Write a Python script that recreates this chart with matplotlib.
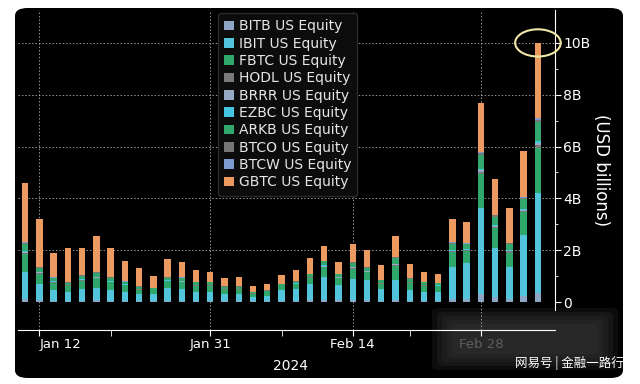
import matplotlib
matplotlib.use("Agg")
import matplotlib.pyplot as plt
from matplotlib.patches import FancyBboxPatch, Ellipse
import numpy as np

plt.rcParams['font.family'] = ['DejaVu Sans', 'Noto Sans CJK SC']

# trading days, Jan 11 - Mar 5 2024
dates = ["Jan 11", "Jan 12", "Jan 16", "Jan 17", "Jan 18", "Jan 19", "Jan 22", "Jan 23",
         "Jan 24", "Jan 25", "Jan 26", "Jan 29", "Jan 30", "Jan 31", "Feb 1", "Feb 2",
         "Feb 5", "Feb 6", "Feb 7", "Feb 8", "Feb 9", "Feb 12", "Feb 13", "Feb 14",
         "Feb 15", "Feb 16", "Feb 20", "Feb 21", "Feb 22", "Feb 23", "Feb 26", "Feb 27",
         "Feb 28", "Feb 29", "Mar 1", "Mar 4", "Mar 5"]

# daily volume, USD billions
bitb = [0.12, 0.08, 0.05, 0.04, 0.05, 0.06, 0.05, 0.04, 0.03, 0.03, 0.05, 0.05, 0.04, 0.04, 0.03, 0.03,
        0.02, 0.03, 0.04, 0.05, 0.07, 0.09, 0.06, 0.08, 0.08, 0.05, 0.08, 0.05, 0.04, 0.04, 0.12, 0.13,
        0.30, 0.18, 0.12, 0.22, 0.35]
ibit = [1.03, 0.62, 0.40, 0.36, 0.45, 0.49, 0.40, 0.36, 0.27, 0.27, 0.50, 0.45, 0.36, 0.36, 0.27, 0.27,
        0.18, 0.22, 0.41, 0.45, 0.63, 0.86, 0.59, 0.82, 0.77, 0.45, 0.77, 0.42, 0.36, 0.36, 1.23, 1.37,
        3.33, 1.90, 1.24, 2.36, 3.85]
fbtc = [0.70, 0.40, 0.30, 0.22, 0.33, 0.36, 0.31, 0.24, 0.18, 0.15, 0.25, 0.27, 0.23, 0.23, 0.18, 0.18,
        0.12, 0.12, 0.15, 0.18, 0.24, 0.39, 0.27, 0.39, 0.30, 0.21, 0.54, 0.28, 0.23, 0.20, 0.57, 0.46,
        1.30, 0.77, 0.55, 0.88, 1.74]
hodl = [0.05, 0.03, 0.02, 0.02, 0.02, 0.03, 0.02, 0.02, 0.02, 0.01, 0.02, 0.02, 0.02, 0.02, 0.02, 0.02,
        0.01, 0.01, 0.01, 0.02, 0.02, 0.03, 0.02, 0.03, 0.02, 0.02, 0.04, 0.02, 0.02, 0.02, 0.04, 0.04,
        0.10, 0.06, 0.04, 0.07, 0.13]
brrr = [0.03, 0.01, 0.01, 0.01, 0.01, 0.01, 0.01, 0.01, 0.01, 0.01, 0.01, 0.01, 0.01, 0.01, 0.01, 0.01,
        0.00, 0.00, 0.01, 0.01, 0.01, 0.02, 0.01, 0.02, 0.01, 0.01, 0.02, 0.01, 0.01, 0.01, 0.02, 0.02,
        0.05, 0.03, 0.02, 0.03, 0.07]
ezbc = [0.03, 0.02, 0.02, 0.01, 0.02, 0.02, 0.02, 0.01, 0.01, 0.01, 0.01, 0.01, 0.01, 0.01, 0.01, 0.01,
        0.01, 0.01, 0.01, 0.01, 0.01, 0.02, 0.01, 0.02, 0.02, 0.01, 0.03, 0.01, 0.01, 0.01, 0.03, 0.02,
        0.07, 0.04, 0.03, 0.04, 0.09]
arkb = [0.28, 0.16, 0.12, 0.09, 0.14, 0.15, 0.13, 0.10, 0.07, 0.06, 0.10, 0.11, 0.09, 0.09, 0.07, 0.07,
        0.05, 0.05, 0.06, 0.07, 0.10, 0.16, 0.11, 0.16, 0.12, 0.09, 0.22, 0.11, 0.09, 0.08, 0.24, 0.19,
        0.54, 0.32, 0.23, 0.37, 0.72]
btco = [0.04, 0.02, 0.02, 0.01, 0.02, 0.02, 0.02, 0.01, 0.01, 0.01, 0.02, 0.02, 0.01, 0.01, 0.01, 0.01,
        0.01, 0.01, 0.01, 0.01, 0.01, 0.02, 0.02, 0.02, 0.02, 0.01, 0.03, 0.02, 0.01, 0.01, 0.03, 0.02,
        0.07, 0.04, 0.03, 0.05, 0.09]
btcw = [0.02, 0.01, 0.01, 0.01, 0.01, 0.01, 0.01, 0.01, 0.00, 0.00, 0.01, 0.01, 0.01, 0.01, 0.00, 0.00,
        0.00, 0.00, 0.00, 0.00, 0.01, 0.01, 0.01, 0.01, 0.01, 0.00, 0.02, 0.01, 0.01, 0.00, 0.02, 0.02,
        0.04, 0.02, 0.02, 0.03, 0.06]
gbtc = [2.30, 1.85, 0.95, 1.33, 1.05, 1.40, 1.13, 0.80, 0.70, 0.45, 0.68, 0.60, 0.45, 0.37, 0.33, 0.37,
        0.22, 0.25, 0.35, 0.43, 0.60, 0.55, 0.45, 0.70, 0.65, 0.58, 0.80, 0.54, 0.37, 0.35, 0.90, 0.83,
        1.90, 1.39, 1.35, 1.78, 2.90]

series = [
    ("BITB US Equity", bitb, "#8ea6c6"),
    ("IBIT US Equity", ibit, "#52c4dc"),
    ("FBTC US Equity", fbtc, "#2fa66a"),
    ("HODL US Equity", hodl, "#7a7a7a"),
    ("BRRR US Equity", brrr, "#97aac4"),
    ("EZBC US Equity", ezbc, "#45c6e0"),
    ("ARKB US Equity", arkb, "#32a86e"),
    ("BTCO US Equity", btco, "#777777"),
    ("BTCW US Equity", btcw, "#7c9ccf"),
    ("GBTC US Equity", gbtc, "#ec9a60"),
]

label_dates = ["Jan 12", "Jan 31", "Feb 14", "Feb 28"]
minor_dates = ["Jan 22", "Feb 7", "Feb 21"]

fig = plt.figure(figsize=(6.4, 3.84), dpi=100, facecolor="white")
# black rounded terminal panel, behind the axes
panel = FancyBboxPatch((15 / 640, 6 / 384), 608 / 640, 370 / 384,
                       boxstyle="round,pad=0,rounding_size=0.02",
                       transform=fig.transFigure, facecolor="black", edgecolor="none", zorder=-10)
fig.patches.append(panel)
# blurred patch over the last date label (soft edges from stacked boxes)
for k in range(5):
    fig.patches.append(FancyBboxPatch(((432 + 5 * k) / 640, (14 + 4 * k) / 384),
                                      (186 - 10 * k) / 640, (62 - 8 * k) / 384,
                                      boxstyle="round,pad=0,rounding_size=0.01",
                                      transform=fig.transFigure, facecolor="#3a3a3a",
                                      edgecolor="none", alpha=0.22, zorder=-5))

ax = fig.add_axes([18 / 640, 1 - 330 / 384, 537 / 640, 320 / 384])
ax.set_facecolor("none")

x = np.arange(len(dates))
bottom = np.zeros(len(dates))
for name, vals, col in series:
    ax.bar(x, vals, width=0.45, bottom=bottom, color=col, label=name, linewidth=0)
    bottom += np.array(vals)

ax.set_xlim(-0.5, 37.2)
ax.set_ylim(-1.08, 11.27)

# grid
for v in [2, 4, 6, 8, 10]:
    ax.axhline(v, color="#bbbbbb", linestyle=(0, (1.5, 2)), linewidth=0.7, alpha=0.8, zorder=0)
for d in label_dates:
    ax.axvline(dates.index(d), color="#bbbbbb", linestyle=(0, (1.5, 2)), linewidth=0.7, alpha=0.8, zorder=0)

# x axis
ax.set_xticks([dates.index(d) for d in label_dates])
ax.set_xticklabels(label_dates, fontsize=9.5, color="white")
ax.set_xticks([dates.index(d) for d in minor_dates], minor=True)
ax.tick_params(axis="x", which="both", colors="white", direction="out", length=4, pad=1.5)
xl = ax.get_xticklabels()
xl[0].set_horizontalalignment("left")
xl[0].set_x(dates.index("Jan 12") - 0.5)
xl[-1].set_color("#5e5e5e")

# y axis on right
ax.yaxis.tick_right()
ax.set_yticks([0, 2, 4, 6, 8, 10])
ax.set_yticklabels(["0", "2B", "4B", "6B", "8B", "10B"], fontsize=10, color="white")
ax.set_yticks([1, 3, 5, 7, 9], minor=True)
ax.tick_params(axis="y", which="major", colors="white", length=4, pad=2)
ax.tick_params(axis="y", which="minor", colors="white", length=2)
ax.yaxis.set_label_position("right")
ax.set_ylabel("(USD billions)", fontsize=12, color="white", rotation=270, labelpad=14)

for s in ["top", "left"]:
    ax.spines[s].set_visible(False)
ax.spines["right"].set_color("white")
ax.spines["right"].set_bounds(-0.3, 11.27)
ax.spines["bottom"].set_color("white")

leg = ax.legend(loc="upper left", bbox_to_anchor=(0.372, 0.99), fontsize=10,
                frameon=True, facecolor="#0c0c0c", edgecolor="#2a2a2a", framealpha=1,
                handlelength=0.7, handleheight=0.7, handletextpad=0.35,
                labelspacing=0.24, borderpad=0.45, borderaxespad=0)
for t in leg.get_texts():
    t.set_color("#e6e6e6")

# highlight the record day
last = len(dates) - 1
ax.add_patch(Ellipse((last, bottom[last]), 3.2, 1.05, fill=False,
                     edgecolor="#efe6a8", linewidth=1.5, clip_on=False, zorder=5))

fig.text(290 / 640, 1 - 366 / 384, "2024", fontsize=10, color="white", ha="center", va="center")
fig.text(624 / 640, 1 - 363 / 384, "网易号 | 金融一路行", fontsize=9, color="white",
         ha="right", va="center", family=["Noto Sans CJK SC", "DejaVu Sans"])

fig.savefig("out.png", dpi=100, facecolor="white")
